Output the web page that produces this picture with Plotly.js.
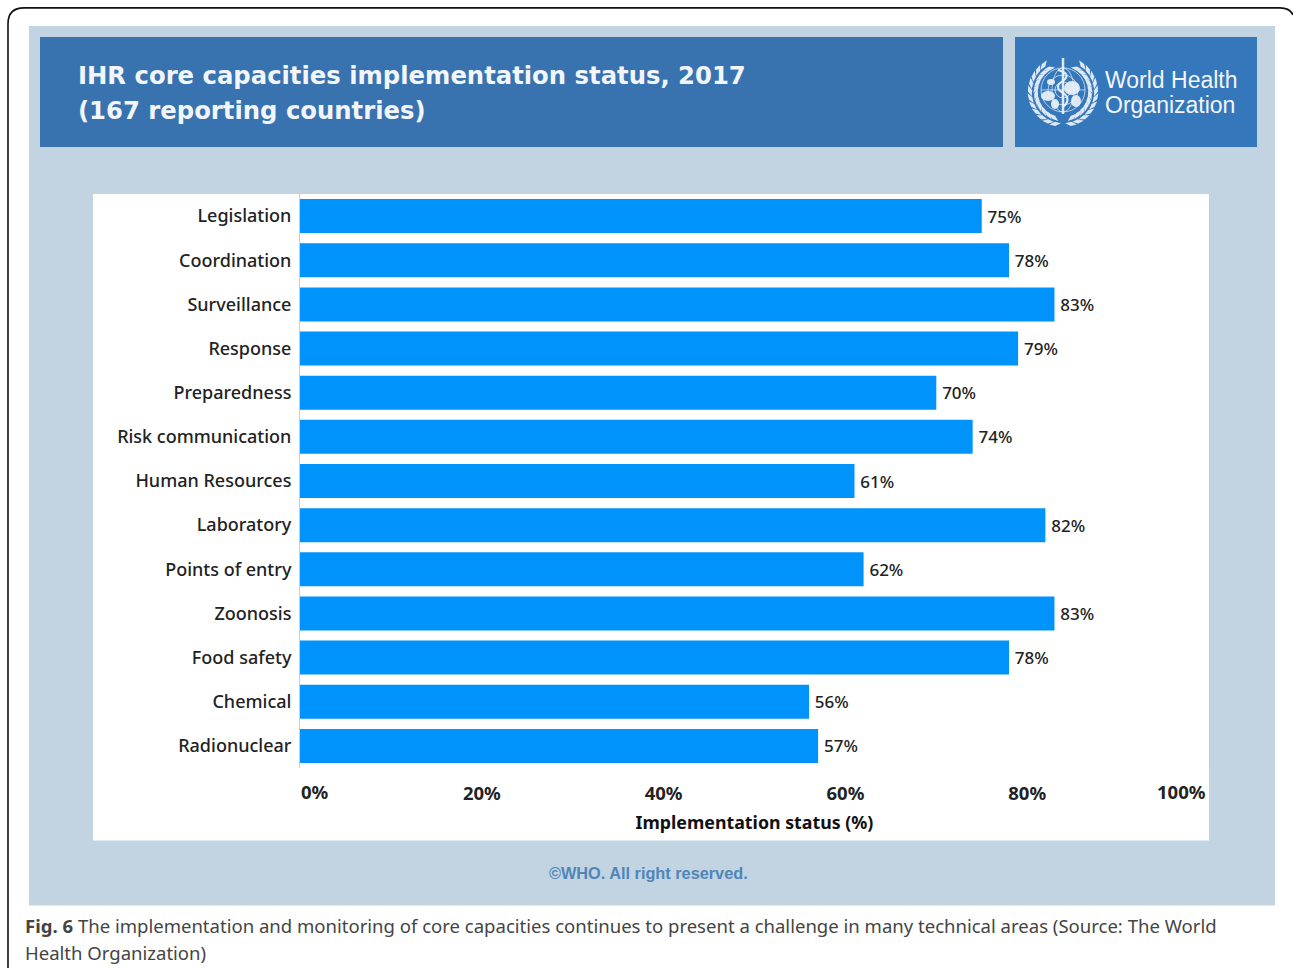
<!DOCTYPE html>
<html>
<head>
<meta charset="utf-8">
<script src="https://cdn.plot.ly/plotly-3.0.1.min.js"></script>
<style>html,body{margin:0;padding:0;background:#fff}#chart{width:1293px;height:968px}</style>
</head>
<body>
<div id="chart"></div>
<script>
// IHR core capacities, 2017
const capacities = ["Legislation","Coordination","Surveillance","Response","Preparedness","Risk communication","Human Resources","Laboratory","Points of entry","Zoonosis","Food safety","Chemical","Radionuclear"];
const implementation = [75,78,83,79,70,74,61,82,62,83,78,56,57];
const innerTicks = [20,40,60,80];
const headingLines = ["IHR core capacities implementation status, 2017","(167 reporting countries)"];

// Plot area in page pixels
const W = 1293, H = 968, L = 300, R = 1209, T = 194, B = 767.6;
const fx = x => (x - L) / (R - L);
const fy = y => (B - y) / (B - T);
const BODY = "'Noto Sans', sans-serif";
const HEAD = "'DejaVu Sans', sans-serif";
const LOGO = "'Liberation Sans', Arial, sans-serif";

function box(x0, y0, x1, y1, color) {
  return {type:'rect', xref:'paper', yref:'paper', layer:'below', x0:fx(x0), x1:fx(x1), y0:fy(y1), y1:fy(y0),
          fillcolor:color, line:{width:0}};
}
function pathShape(d, opts) {
  return Object.assign({type:'path', xref:'paper', yref:'paper', layer:'below', path:d, line:{width:0}}, opts);
}
function polyline(points, closed) {
  return points.map((p,i) => (i ? 'L' : 'M') + fx(p[0]) + ',' + fy(p[1])).join(' ') + (closed ? ' Z' : '');
}
function label(text, x, y, size, opts) {
  return Object.assign({xref:'paper', yref:'paper', x:fx(x), y:fy(y), text:text, showarrow:false,
    xanchor:'left', yanchor:'middle', align:'left', borderpad:0,
    font:{family:BODY, size:size, color:'#222'}}, opts || {});
}

// Emblem: globe, rod and laurel wreath
const EX = 1063, EY = 90, white = 'rgba(236,242,248,0.92)';
function emblem() {
  const out = [];
  const thin = {width:1, color:'rgba(236,242,248,0.7)'};
  const ring = (rx, ry) => ({type:'circle', xref:'paper', yref:'paper', layer:'below',
    x0:fx(EX-rx), x1:fx(EX+rx), y0:fy(EY+ry), y1:fy(EY-ry), line:thin});
  [22,15,8].forEach(r => out.push(ring(r, r)));
  out.push(ring(11, 22));
  out.push(pathShape(polyline([[EX-22,EY],[EX+22,EY]]), {line:thin}));
  out.push(pathShape(polyline([[EX,EY-32],[EX,EY+24]]), {line:{width:2.5,color:white}}));
  // serpent around the rod
  const s = (x,y) => fx(EX+x)+','+fy(EY+y);
  out.push(pathShape('M'+s(-5,-20)+' Q'+s(9,-16)+' '+s(0,-9)+' Q'+s(-10,-3)+' '+s(0,3)+' Q'+s(9,9)+' '+s(0,17),
    {line:{width:2.2,color:white}}));
  // land masses
  [[-15,6,7,5],[9,-2,8,7],[-8,14,4,5],[13,11,5,6],[-12,-8,4,3]].forEach(m => {
    out.push({type:'circle', xref:'paper', yref:'paper', layer:'below', fillcolor:white, line:{width:0},
      x0:fx(EX+m[0]-m[2]), x1:fx(EX+m[0]+m[2]), y0:fy(EY+m[1]+m[3]), y1:fy(EY+m[1]-m[3])});
  });
  // laurel leaves on both sides
  [-1,1].forEach(side => {
    for (let deg = -60; deg <= 82; deg += 13) {
      [0,1].forEach(row => {
        const a = (deg + row*6) * Math.PI/180, r = 27 + row*6;
        const cx = EX + side*r*Math.cos(a), cy = EY + 2 + r*Math.sin(a);
        const tx = side*Math.sin(a)*5.5 + side*Math.cos(a)*2*(row?1:-1), ty = -Math.cos(a)*5.5 + Math.sin(a)*2*(row?1:-1);
        const nx = -ty*0.36, ny = tx*0.36;
        out.push(pathShape(polyline([[cx-tx,cy-ty],[cx+nx,cy+ny],[cx+tx,cy+ty],[cx-nx,cy-ny]], true), {fillcolor:white}));
      });
    }
  });
  return out;
}

const shapes = [
  box(29,26,1275,905,'#c2d3e1'),
  box(40,37,1003,147,'#3873b0'),
  box(1015,37,1257,147,'#3477bb'),
  box(93,194,1209,840,'#ffffff'),
  // rounded page frame
  pathShape('M'+fx(8)+','+fy(968)+' L'+fx(8)+','+fy(24)+' Q'+fx(8)+','+fy(8)+' '+fx(24)+','+fy(8)+
      ' L'+fx(1280)+','+fy(8)+' Q'+fx(1290)+','+fy(8)+' '+fx(1293)+','+fy(15), {line:{width:1.6,color:'#111'}, layer:'above'})
].concat(emblem());

const headFont = {family:HEAD, size:24.3, color:'#f2f5f9', weight:700};
const logoFont = {family:LOGO, size:23, color:'#f2f5f9'};
const edgeTick = {family:BODY, size:18.5, color:'#222', weight:700};
const capFont = {family:BODY, size:18.55, color:'#444'};
const annotations = [
  label(headingLines[0], 77, 75.5, 24.3, {font:headFont}),
  label(headingLines[1], 77, 110.5, 24.3, {font:headFont}),
  label('World Health', 1104, 80, 23, {font:logoFont}),
  label('Organization', 1104, 105.5, 23, {font:logoFont}),
  label('0%', 300, 791, 18.5, {font:edgeTick}),
  label('100%', 1207, 791, 18.5, {xanchor:'right',font:edgeTick}),
  label('©WHO. All right reserved.', 648, 873, 16.3, {xanchor:'center',font:{family:LOGO,size:16.3,color:'#4f86b8',weight:700}}),
  label('<b>Fig. 6</b> The implementation and monitoring of core capacities continues to present a challenge in many technical areas (Source: The World', 24, 924.5, 18.55, {font:capFont}),
  label('Health Organization)', 24, 951.5, 18.55, {font:capFont})
];

const trace = {
  type:'bar', orientation:'h', x:implementation, y:capacities,
  marker:{color:'#0093fb', line:{width:0}},
  text:implementation.map(v => '\u2009' + v + '%'), textposition:'outside', cliponaxis:false,
  textfont:{family:BODY, size:17, color:'#222', weight:500}, hoverinfo:'x+y'
};

const layout = {
  width:W, height:H, showlegend:false, bargap:0.23,
  paper_bgcolor:'#ffffff', plot_bgcolor:'rgba(0,0,0,0)',
  margin:{l:L, r:W-R, t:T, b:H-B, pad:0, autoexpand:false},
  xaxis:{range:[0,100], tickmode:'array', tickvals:innerTicks, ticktext:innerTicks.map(v => v + '%'),
    ticks:'outside', ticklen:9, tickcolor:'rgba(0,0,0,0)', showgrid:false, zeroline:false, showline:false,
    tickfont:{family:BODY, size:18.5, color:'#222', weight:700},
    title:{text:'Implementation status (%)', standoff:12, font:{family:BODY, size:17.8, color:'#111', weight:700}}},
  yaxis:{type:'category', autorange:'reversed', showgrid:false, zeroline:false, showline:true, mirror:true,
    linecolor:'#c9ced3', linewidth:1, ticks:'outside', ticklen:4, tickcolor:'rgba(0,0,0,0)',
    tickfont:{family:BODY, size:18, color:'#222', weight:500}},
  shapes:shapes, annotations:annotations
};
Plotly.newPlot('chart', [trace], layout, {displayModeBar:false, responsive:false});
</script>
</body>
</html>
